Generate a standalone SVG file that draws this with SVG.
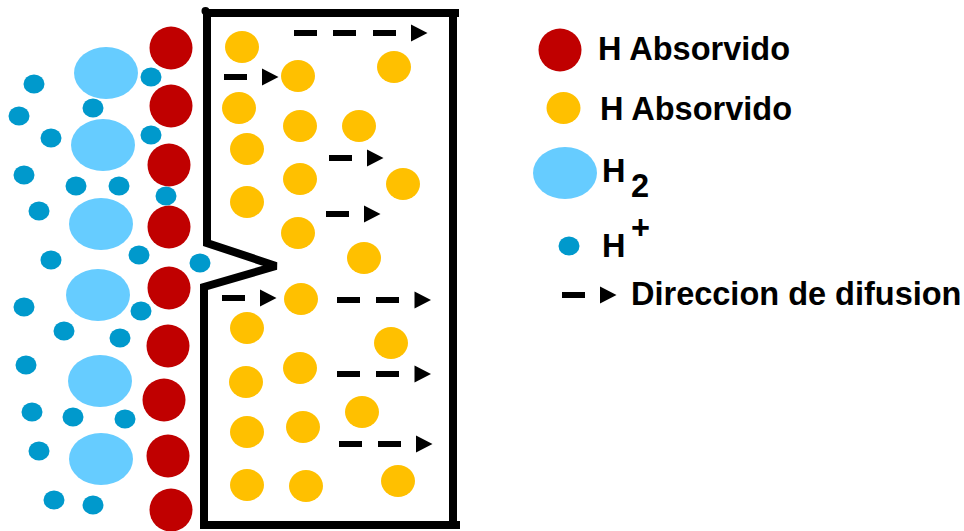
<svg xmlns="http://www.w3.org/2000/svg" width="964" height="531" viewBox="0 0 964 531">
<style>
.r{fill:#c00000}.o{fill:#ffc000}.h2{fill:#66ccff}.p{fill:#0099cc}
.t{font-family:"Liberation Sans",Arial,sans-serif;font-weight:700;font-size:32.500px;fill:#000}
.wall{fill:none;stroke:#000;stroke-width:8;stroke-linejoin:miter;stroke-miterlimit:2}
.d{fill:none;stroke:#000;stroke-width:6}
.a{fill:#000}
</style>
<defs>
<circle id="red" r="21.500" class="r"/>
<ellipse id="orange" rx="17" ry="16" class="o"/>
<ellipse id="mol" rx="32" ry="26" class="h2"/>
<ellipse id="ion" rx="10.500" ry="9.500" class="p"/>
<polygon id="head" points="0,-8.500 16.500,0 0,8.500" class="a"/>
</defs>
<g id="specimen">
<path class="wall" d="M203 13H459M453 13V525M207 11V243L276 266L204 287V525H460"/>
<circle cx="205.500" cy="11" r="4" fill="#000"/>
</g>
<g id="absorbed-red">
<use href="#red" x="171" y="48"/><use href="#red" x="171" y="106"/><use href="#red" x="169" y="165"/>
<use href="#red" x="169" y="227"/><use href="#red" x="169" y="288"/><use href="#red" x="168" y="346"/>
<use href="#red" x="164" y="400"/><use href="#red" x="168" y="456"/><use href="#red" x="171" y="510"/>
</g>
<g id="h2-molecules">
<use href="#mol" x="106" y="73"/><use href="#mol" x="103" y="145"/><use href="#mol" x="101" y="224"/>
<use href="#mol" x="98" y="295"/><use href="#mol" x="100" y="381"/><use href="#mol" x="101" y="459"/>
</g>
<g id="h-ions">
<use href="#ion" x="34" y="84"/><use href="#ion" x="151" y="77"/><use href="#ion" x="93" y="108"/>
<use href="#ion" x="19" y="116"/><use href="#ion" x="51" y="138"/><use href="#ion" x="151" y="135"/>
<use href="#ion" x="24" y="175"/><use href="#ion" x="76" y="186"/><use href="#ion" x="119" y="186"/>
<use href="#ion" x="166" y="196"/><use href="#ion" x="39" y="211"/><use href="#ion" x="51" y="260"/>
<use href="#ion" x="139" y="255"/><use href="#ion" x="200" y="263"/><use href="#ion" x="24" y="307"/>
<use href="#ion" x="141" y="311"/><use href="#ion" x="64" y="331"/><use href="#ion" x="120" y="338"/>
<use href="#ion" x="26" y="365"/><use href="#ion" x="32" y="412"/><use href="#ion" x="73" y="417"/>
<use href="#ion" x="125" y="419"/><use href="#ion" x="39" y="451"/><use href="#ion" x="54" y="500"/>
<use href="#ion" x="93" y="505"/>
</g>
<g id="absorbed-orange">
<use href="#orange" x="242" y="47"/><use href="#orange" x="298" y="76"/><use href="#orange" x="394" y="67"/>
<use href="#orange" x="239" y="108"/><use href="#orange" x="300" y="126"/><use href="#orange" x="359" y="126"/>
<use href="#orange" x="247" y="149"/><use href="#orange" x="300" y="179"/><use href="#orange" x="403" y="184"/>
<use href="#orange" x="247" y="202"/><use href="#orange" x="298" y="233"/><use href="#orange" x="364" y="258"/>
<use href="#orange" x="301" y="299"/><use href="#orange" x="247" y="328"/><use href="#orange" x="391" y="343"/>
<use href="#orange" x="300" y="368"/><use href="#orange" x="246" y="382"/><use href="#orange" x="362" y="412"/>
<use href="#orange" x="247" y="432"/><use href="#orange" x="303" y="427"/><use href="#orange" x="247" y="485"/>
<use href="#orange" x="306" y="486"/><use href="#orange" x="398" y="481"/>
</g>
<g id="connectors">
<path class="d" d="M294 33h23M333 33h23M373 33h23"/><use href="#head" x="411" y="33"/>
<path class="d" d="M224 77h23"/><use href="#head" x="262" y="77"/>
<path class="d" d="M329 158h23"/><use href="#head" x="367" y="158"/>
<path class="d" d="M326 214h23"/><use href="#head" x="364" y="214"/>
<path class="d" d="M222 298h23"/><use href="#head" x="260" y="298"/>
<path class="d" d="M337 300h23M376 300h23"/><use href="#head" x="414.500" y="300"/>
<path class="d" d="M337 374h23M376 374h23"/><use href="#head" x="414.500" y="374"/>
<path class="d" d="M339 444h23M378 444h23"/><use href="#head" x="416" y="444"/>
</g>
<g id="legend-red"><use href="#red" x="560" y="50"/><text class="t" x="598" y="60">H Absorvido</text></g>
<g id="legend-orange"><use href="#orange" x="563.500" y="108"/><text class="t" x="600" y="120">H Absorvido</text></g>
<g id="legend-h2"><use href="#mol" x="565" y="173"/><text class="t" x="602" y="182">H</text><text class="t" x="631" y="197">2</text></g>
<g id="legend-ion"><use href="#ion" x="569" y="246"/><text class="t" x="602" y="257">H</text><text class="t" x="631" y="239">+</text></g>
<g id="legend-direction"><path class="d" d="M562 295h23"/><use href="#head" x="600" y="295"/><text class="t" x="631" y="305">Direccion de difusion</text></g>
</svg>
